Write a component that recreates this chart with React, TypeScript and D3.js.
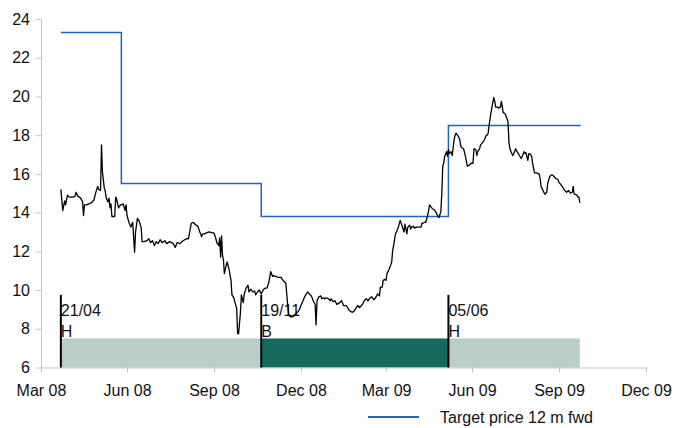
import React, { useEffect, useRef } from 'react'
import * as d3 from 'd3'

// axis
const startDate = '2008-03-31'
const endDate = '2009-12-31'
const tickDates = ['2008-03-31', '2008-06-30', '2008-09-30', '2008-12-31', '2009-03-31', '2009-06-30', '2009-09-30', '2009-12-31']
const tickLabels = ['Mar 08', 'Jun 08', 'Sep 08', 'Dec 08', 'Mar 09', 'Jun 09', 'Sep 09', 'Dec 09']
const yTicks = [6, 8, 10, 12, 14, 16, 18, 20, 22, 24]

// rating changes
const eventDates = ['2008-04-21', '2008-11-19', '2009-06-05']
const eventLabels = ['21/04', '19/11', '05/06']
const eventRatings = ['H', 'B', 'H']
const ratingEnd = '2009-10-22'

// target price 12 m fwd
const targetDates = ['2008-04-21', '2008-06-24', '2008-11-19', '2009-06-05', '2009-10-23']
const targetValues = [23.3, 15.5, 13.8, 18.5, 18.5]

// share price, days after 31/03/2008
const priceDays = [
  21, 23, 25, 26, 28, 30, 34, 36, 37, 39, 42, 44, 45, 46, 48, 53, 56, 58, 60, 61,
  63, 64, 65, 67, 68, 69, 71, 72, 73, 74, 75, 78, 79, 80, 82, 84, 85, 87, 89, 90,
  91, 93, 95, 97, 99, 100, 102, 104, 106, 107, 109, 112, 114, 116, 118, 120, 122, 124, 126, 128,
  131, 133, 136, 138, 140, 142, 144, 147, 149, 152, 154, 156, 158, 159, 161, 164, 166, 168, 170, 171,
  173, 175, 178, 181, 183, 185, 186, 188, 189, 190, 191, 192, 193, 194, 196, 197, 199, 201, 202, 204,
  205, 207, 208, 209, 211, 212, 214, 215, 217, 219, 220, 222, 224, 226, 227, 229, 231, 232, 233, 235,
  237, 239, 241, 243, 245, 246, 248, 249, 251, 254, 256, 258, 259, 261, 262, 263, 265, 267, 269, 271,
  273, 275, 278, 280, 282, 284, 286, 288, 290, 291, 292, 294, 296, 297, 299, 300, 302, 304, 306, 307,
  309, 311, 313, 316, 318, 320, 323, 326, 329, 331, 333, 335, 337, 340, 342, 344, 346, 348, 350, 352,
  354, 356, 358, 359, 361, 362, 364, 365, 366, 368, 370, 371, 372, 373, 375, 376, 378, 380, 381, 383,
  384, 385, 387, 388, 390, 391, 392, 394, 395, 397, 400, 402, 403, 404, 406, 407, 409, 410, 411, 414,
  416, 418, 420, 421, 423, 424, 425, 426, 427, 429, 430, 431, 432, 434, 435, 437, 438, 439, 442, 443,
  444, 445, 447, 449, 451, 453, 455, 457, 458, 460, 461, 462, 464, 465, 467, 469, 471, 472, 473, 474,
  476, 477, 479, 480, 481, 483, 484, 486, 487, 489, 490, 491, 493, 494, 495, 496, 498, 499, 501, 502,
  503, 505, 506, 508, 509, 511, 512, 513, 515, 516, 518, 519, 520, 522, 524, 527, 528, 529, 531, 533,
  535, 536, 538, 540, 541, 543, 545, 547, 548, 550, 552, 554, 556, 558, 560, 562, 563, 564, 565, 567, 568, 569, 570
]
const priceValues = [
  15.2, 14.1, 14.6, 14.4, 14.9, 14.8, 14.8, 14.85, 15.05, 14.85, 14.75, 14.55, 13.85, 14.4, 14.4, 14.5, 14.65, 15.05, 15.35, 15.2,
  15.15, 17.5, 16.1, 15.25, 15.1, 14.75, 14.55, 14.75, 14.25, 14.45, 13.8, 13.8, 14.8, 14.7, 14.25, 14.4, 14.4, 14.45, 14.1, 14.4,
  13.85, 13.5, 13.25, 13.5, 11.95, 13.0, 13.7, 13.55, 13.2, 12.5, 12.5, 12.55, 12.65, 12.45, 12.55, 12.3, 12.5, 12.4, 12.6, 12.45,
  12.55, 12.4, 12.5, 12.45, 12.4, 12.2, 12.45, 12.4, 12.5, 12.6, 12.65, 12.65, 13.2, 13.45, 13.5, 13.35, 13.3, 13.0, 12.75, 12.9,
  12.9, 12.95, 13.0, 12.95, 12.95, 12.65, 12.45, 12.3, 12.7, 11.7, 12.8, 11.8, 11.55, 10.85, 11.3, 11.45, 11.05, 10.5, 9.75, 9.6,
  9.4, 9.05, 7.75, 7.75, 8.85, 9.75, 9.35, 9.8, 10.1, 10.25, 9.9, 10.05, 9.9, 9.95, 9.75, 9.9, 10.0, 9.9, 9.8, 10.0,
  10.1, 10.1, 10.4, 10.95, 10.7, 10.75, 10.7, 10.7, 10.65, 10.65, 10.5, 10.4, 10.35, 9.2, 8.75, 8.65, 8.6, 8.65, 8.75, 8.85,
  8.95, 9.2, 9.55, 9.75, 9.9, 9.8, 9.7, 9.45, 9.25, 8.2, 9.45, 9.65, 9.7, 9.55, 9.6, 9.55, 9.6, 9.55, 9.45, 9.55,
  9.4, 9.45, 9.25, 9.35, 9.45, 9.2, 9.2, 8.95, 8.85, 8.9, 9.05, 9.2, 9.1, 9.25, 9.45, 9.55, 9.45, 9.6, 9.65, 9.5,
  9.6, 9.8, 9.7, 10.15, 10.15, 10.5, 10.55, 10.5, 10.85, 11.05, 11.3, 11.45, 12.05, 12.3, 12.9, 13.0, 13.25, 13.6, 13.45, 13.15,
  13.0, 13.4, 12.9, 13.25, 13.35, 13.15, 13.25, 13.3, 13.2, 13.25, 13.25, 13.25, 13.45, 13.45, 13.5, 13.5, 13.85, 14.1, 14.4, 14.2,
  14.15, 14.0, 13.8, 13.75, 14.05, 15.0, 16.4, 16.55, 16.9, 17.15, 16.9, 17.25, 17.05, 17.15, 16.95, 17.75, 18.0, 18.1, 17.9, 17.75,
  17.45, 17.35, 17.3, 16.9, 16.4, 16.45, 16.55, 16.55, 17.3, 17.25, 16.95, 17.15, 17.3, 17.5, 17.6, 17.75, 18.0, 18.0, 18.1, 18.5,
  19.15, 19.45, 19.95, 19.75, 19.45, 19.45, 19.4, 19.45, 19.75, 19.15, 19.15, 19.1, 18.85, 18.7, 17.65, 17.3, 17.05, 16.95, 17.15, 17.3,
  17.2, 17.05, 16.95, 16.8, 16.9, 17.15, 17.05, 17.1, 16.7, 17.05, 17.0, 16.9, 16.55, 16.05, 16.05, 16.0, 15.75, 15.35, 15.15, 14.95,
  15.05, 15.5, 15.85, 15.95, 15.95, 15.85, 15.75, 15.7, 15.55, 15.45, 15.3, 15.15, 15.05, 15.15, 15.0, 15.05, 15.35, 14.95, 14.95, 14.9, 14.8, 14.8, 14.5
]

const FONT = '"Liberation Sans", Arial, sans-serif'
const parse = d3.timeParse('%Y-%m-%d')

function App() {
  const ref = useRef<HTMLDivElement>(null)

  useEffect(() => {
    drawChart(ref.current as HTMLDivElement, 674, 428)
  }, [])

  return <div ref={ref} style={{ position: 'absolute', left: 0, top: 0 }}></div>
}

/**
 * price chart with rating bands
 */
function drawChart(el: HTMLDivElement, w: number, h: number) {
  d3.select(el).selectAll('*').remove()

  const svg = d3.select(el)
    .append('svg')
    .attr('width', w)
    .attr('height', h)
    .style('display', 'block')
    .style('font-family', FONT)

  const base = parse(startDate) as Date
  const x = d3.scaleTime()
    .domain([base, parse(endDate) as Date])
    .range([41, 646])
  const y = d3.scaleLinear()
    .domain([6, 24])
    .range([367.5, 19])

  // rating bands
  const bandEnds = eventDates.slice(1).concat([ratingEnd])
  svg.append('g')
    .selectAll('rect')
    .data(eventDates)
    .enter()
    .append('rect')
    .attr('x', (d) => x(parse(d) as Date))
    .attr('width', (d, i) => x(parse(bandEnds[i]) as Date) - x(parse(d) as Date))
    .attr('y', y(7.5))
    .attr('height', y(6) - y(7.5))
    .attr('fill', (d, i) => (eventRatings[i] === 'B' ? '#15695c' : '#b9cec7'))

  // axes
  const yAxis = d3.axisLeft(y).tickValues(yTicks).tickSize(5).tickSizeOuter(0).tickPadding(6)
  const gy = svg.append('g').attr('transform', 'translate(41,0)').call(yAxis)

  const xAxis = d3.axisBottom(x)
    .tickValues(tickDates.map((d) => parse(d) as Date))
    .tickFormat((d, i) => tickLabels[i])
    .tickSize(5)
    .tickSizeOuter(0)
    .tickPadding(12)
  const gx = svg.append('g').attr('transform', 'translate(0,' + y(6) + ')').call(xAxis)

  ;[gx, gy].forEach((g) => {
    g.select('.domain').attr('stroke', '#c4c4c4')
    g.selectAll('.tick line').attr('stroke', '#c4c4c4')
    g.selectAll('.tick text')
      .attr('fill', '#111')
      .style('font-size', '16px')
      .style('font-family', FONT)
  })

  // event markers
  const ev = svg.append('g')
  eventDates.forEach((d, i) => {
    const ex = x(parse(d) as Date)
    ev.append('line')
      .attr('x1', ex).attr('x2', ex)
      .attr('y1', y(9.75)).attr('y2', y(6))
      .attr('stroke', '#000')
      .attr('stroke-width', 2)
    ev.append('text')
      .attr('x', ex).attr('y', 316)
      .attr('font-size', 16)
      .attr('fill', '#111')
      .text(eventLabels[i])
    ev.append('text')
      .attr('x', ex).attr('y', 337)
      .attr('font-size', 16)
      .attr('fill', '#111')
      .text(eventRatings[i])
  })

  // target price
  const tLine = d3.line<number>()
    .x((d, i) => x(parse(targetDates[i]) as Date))
    .y((d) => y(d))
    .curve(d3.curveStepAfter)
  svg.append('path')
    .attr('d', tLine(targetValues))
    .attr('fill', 'none')
    .attr('stroke', '#1f63c6')
    .attr('stroke-width', 1.5)

  // share price
  const pLine = d3.line<number>()
    .x((d, i) => x(d3.timeDay.offset(base, priceDays[i])))
    .y((d) => y(d))
  svg.append('path')
    .attr('d', pLine(priceValues))
    .attr('fill', 'none')
    .attr('stroke', '#000')
    .attr('stroke-width', 1.3)
    .attr('stroke-linejoin', 'round')

  // legend
  svg.append('line')
    .attr('x1', 368).attr('x2', 419)
    .attr('y1', 417).attr('y2', 417)
    .attr('stroke', '#1f63c6')
    .attr('stroke-width', 2)
  svg.append('text')
    .attr('x', 440).attr('y', 422.5)
    .attr('font-size', 16)
    .attr('fill', '#111')
    .text('Target price 12 m fwd')
}

export default App
